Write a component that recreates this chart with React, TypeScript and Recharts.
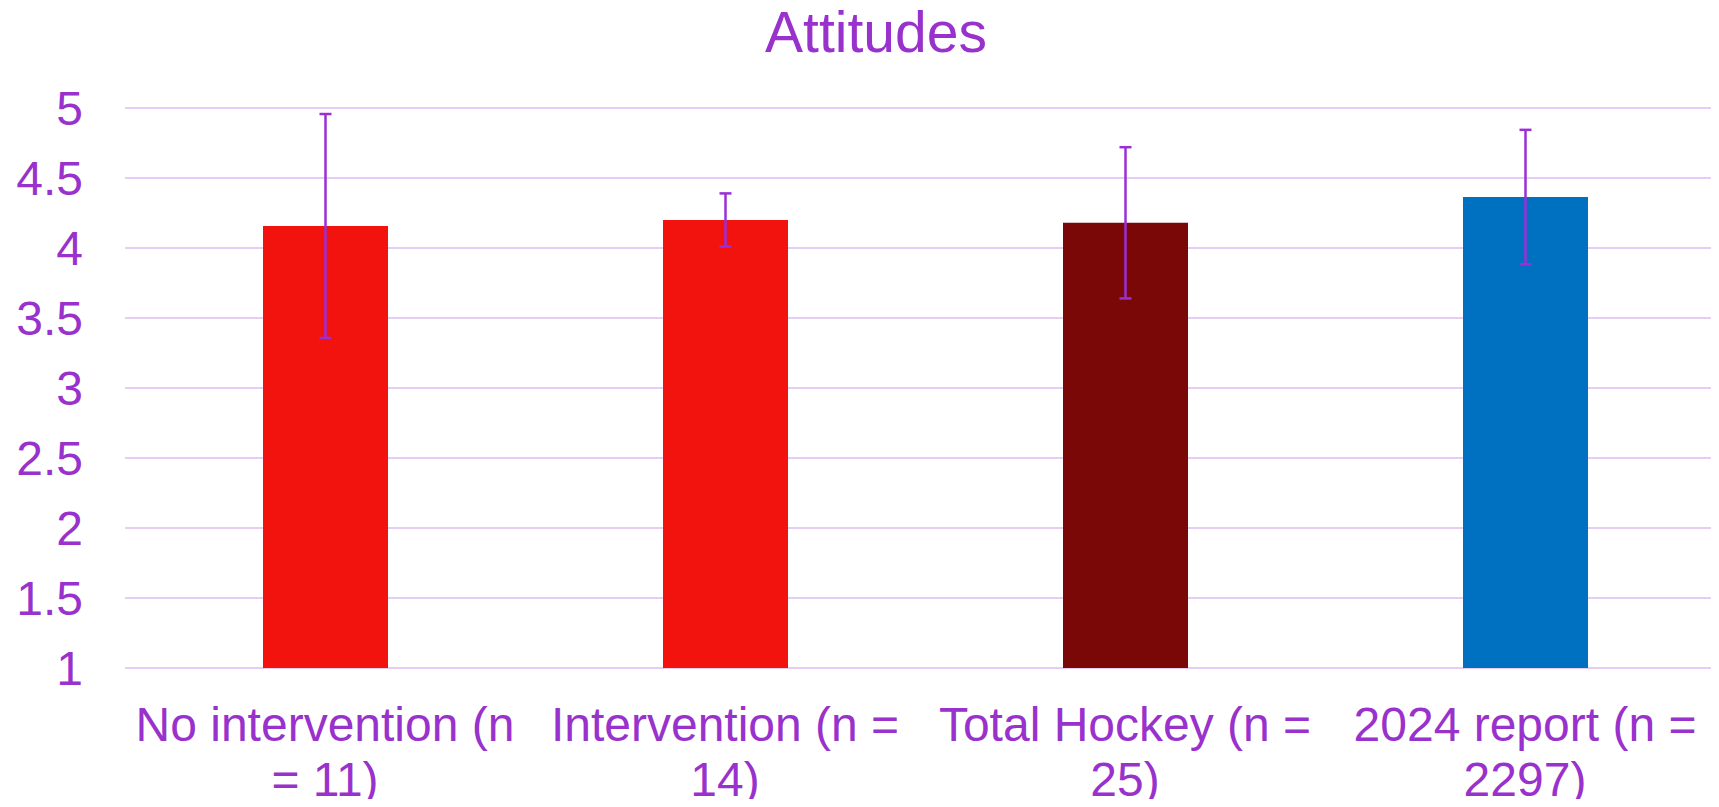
import React from "react";
import {
  BarChart,
  Bar,
  XAxis,
  YAxis,
  CartesianGrid,
  ErrorBar,
  Cell,
} from "recharts";

// groups along the x axis
const categories = [
  "No intervention (n = 11)",
  "Intervention (n = 14)",
  "Total Hockey (n = 25)",
  "2024 report (n = 2297)",
];
// mean attitude score per group
const means = [4.157, 4.2, 4.18, 4.364];
// error bar half-length (+/-)
const errors = [0.8, 0.19, 0.54, 0.48];
const barColors = ["#F2120E", "#F2120E", "#7A0806", "#0070C0"];
const yTicks = [1, 1.5, 2, 2.5, 3, 3.5, 4, 4.5, 5];

const PURPLE = "#9932CC";
const FONT = '"Liberation Sans", Arial, sans-serif';
const LABEL_SIZE = 48;
const LABEL_WIDTH = 390;

const chartData = categories.map((name, i) => ({
  name,
  mean: means[i],
  err: errors[i],
}));

// greedy word wrap, measured with a canvas
let ctx: CanvasRenderingContext2D | null = null;
function wrapLabel(label: string): string[] {
  if (!ctx) {
    ctx = document.createElement("canvas").getContext("2d");
  }
  if (ctx) ctx.font = `${LABEL_SIZE}px ${FONT}`;
  const measure = (s: string) =>
    ctx ? ctx.measureText(s).width : s.length * LABEL_SIZE * 0.5;
  const words = label.split(" ");
  const lines: string[] = [];
  let cur = "";
  for (const w of words) {
    const next = cur ? cur + " " + w : w;
    if (cur && measure(next) > LABEL_WIDTH) {
      lines.push(cur);
      cur = w;
    } else {
      cur = next;
    }
  }
  if (cur) lines.push(cur);
  return lines;
}

function CategoryTick(props: any) {
  const { x, y, payload } = props;
  const lines = wrapLabel(String(payload.value));
  return (
    <text
      x={x}
      y={y}
      textAnchor="middle"
      fill={PURPLE}
      fontSize={LABEL_SIZE}
      fontFamily={FONT}
    >
      {lines.map((l, i) => (
        <tspan key={i} x={x} dy={i === 0 ? 34 : 55}>
          {l}
        </tspan>
      ))}
    </text>
  );
}

export default function App() {
  return (
    <div
      style={{
        position: "relative",
        width: 1719,
        height: 807,
        margin: -8,
        overflow: "hidden",
        background: "#fff",
      }}
    >
      <div
        style={{
          position: "absolute",
          top: 4,
          left: 576,
          width: 600,
          textAlign: "center",
          fontFamily: FONT,
          fontSize: 57,
          lineHeight: "57px",
          color: PURPLE,
        }}
      >
        Attitudes
      </div>
      <BarChart
        width={1725}
        height={807}
        data={chartData}
        margin={{ top: 108, right: 0, bottom: 0, left: 0 }}
      >
        <CartesianGrid vertical={false} stroke="#E6CDF3" strokeWidth={2} />
        <XAxis
          dataKey="name"
          axisLine={false}
          tickLine={false}
          tickSize={0}
          tickMargin={39}
          height={139}
          interval={0}
          tick={<CategoryTick />}
        />
        <YAxis
          type="number"
          domain={[1, 5]}
          ticks={yTicks}
          width={125}
          axisLine={false}
          tickLine={false}
          tickSize={0}
          tickMargin={42}
          tick={{ fill: PURPLE, fontSize: 48, fontFamily: FONT }}
        />
        <Bar dataKey="mean" barSize={125} isAnimationActive={false}>
          {chartData.map((d, i) => (
            <Cell key={d.name} fill={barColors[i]} />
          ))}
          <ErrorBar
            dataKey="err"
            width={6}
            stroke="#9B2FD6"
            strokeWidth={2.5}
            isAnimationActive={false}
          />
        </Bar>
      </BarChart>
    </div>
  );
}
